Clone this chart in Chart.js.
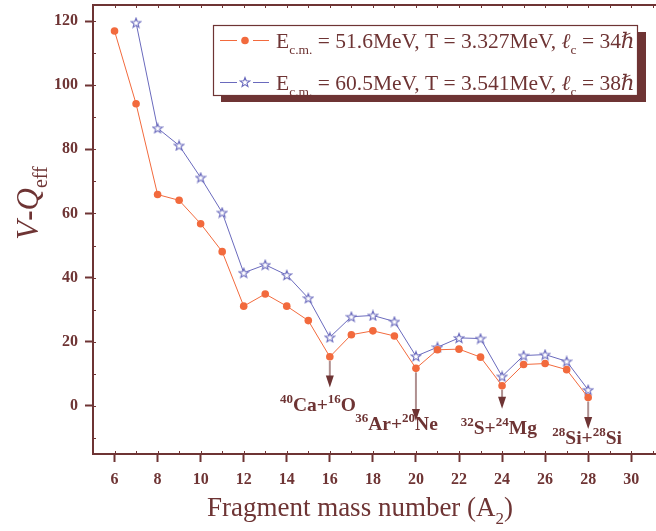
<!DOCTYPE html>
<html>
<head>
<meta charset="utf-8">
<script src="https://cdn.jsdelivr.net/npm/chart.js@4.4.1/dist/chart.umd.min.js"></script>
<style>
  html, body { margin: 0; padding: 0; background: #fff; }
  #wrap { width: 656px; height: 531px; position: relative; }
</style>
</head>
<body>
<div id="wrap"><canvas id="vqChart" width="656" height="531"></canvas></div>
<script>
// fragment mass numbers A2
var massLow = [6, 7, 8, 9, 10, 11, 12, 13, 14, 15, 16, 17, 18, 19, 20, 21, 22, 23, 24, 25, 26, 27, 28];
var vqLow = [116.9, 94.2, 65.9, 64.1, 56.8, 48.1, 31.1, 34.9, 31.1, 26.6, 15.3, 22.2, 23.4, 21.8, 11.7, 17.5, 17.7, 15.2, 6.3, 12.9, 13.2, 11.3, 2.6];
var massHigh = [7, 8, 9, 10, 11, 12, 13, 14, 15, 16, 17, 18, 19, 20, 21, 22, 23, 24, 25, 26, 27, 28];
var vqHigh = [119.5, 86.6, 81.2, 71.2, 60.3, 41.5, 44.0, 40.8, 33.6, 21.4, 27.8, 28.2, 26.3, 15.5, 18.3, 21.2, 21.0, 9.2, 15.7, 16.0, 13.9, 5.0];

var xTicks = [6, 8, 10, 12, 14, 16, 18, 20, 22, 24, 26, 28, 30];
var yTicks = [0, 20, 40, 60, 80, 100, 120];

// decay channels marked with arrows
var channelMass = [16, 20, 24, 28];
var channelTip = [5.7, -4.7, -0.9, -7.2];
var channelLabelX = [15.45, 19.1, 23.85, 27.95];
var channelLabelY = [-1.6, -7.5, -8.7, -11.9];
var channelLabels = [
  [['sup', '40'], ['b', 'Ca+'], ['sup', '16'], ['b', 'O']],
  [['sup', '36'], ['b', 'Ar+'], ['sup', '20'], ['b', 'Ne']],
  [['sup', '32'], ['b', 'S+'], ['sup', '24'], ['b', 'Mg']],
  [['sup', '28'], ['b', 'Si+'], ['sup', '28'], ['b', 'Si']]
];

var maroon = '#6e3434';
var orange = '#f26a3d';
var blue = '#6a6abd';
var serif = "'Liberation Serif', 'DejaVu Serif', serif";

function toPoints(xs, ys) {
  return xs.map(function (x, i) { return { x: x, y: ys[i] }; });
}

// five-point hollow star marker
function makeStar(size) {
  var c = document.createElement('canvas');
  c.width = size; c.height = size;
  var g = c.getContext('2d');
  var cx = size / 2, cy = size / 2 + 0.5, ro = size / 2 - 1, ri = ro * 0.42;
  g.beginPath();
  for (var i = 0; i < 10; i++) {
    var r = i % 2 === 0 ? ro : ri;
    var a = -Math.PI / 2 + i * Math.PI / 5;
    g.lineTo(cx + r * Math.cos(a), cy + r * Math.sin(a));
  }
  g.closePath();
  g.fillStyle = '#fff';
  g.fill();
  g.strokeStyle = blue;
  g.lineWidth = 1.1;
  g.stroke();
  return c;
}
var starImg = makeStar(12);

// draws a run of text pieces: [style, text]
function drawRich(ctx, x, y, parts, base, small, measureOnly) {
  var w = 0;
  parts.forEach(function (p) {
    var kind = p[0], txt = p[1], font, dy = 0;
    if (kind === 'n') font = base + 'px ' + serif;
    else if (kind === 'i') font = 'italic ' + base + 'px ' + serif;
    else if (kind === 'b') font = 'bold ' + base + 'px ' + serif;
    else if (kind === 'sub') { font = small + 'px ' + serif; dy = base * 0.3; }
    else if (kind === 'sup') { font = 'bold ' + small + 'px ' + serif; dy = -base * 0.4; }
    ctx.font = font;
    if (!measureOnly) ctx.fillText(txt, x + w, y + dy);
    w += ctx.measureText(txt).width;
  });
  return w;
}

function noPad(s) {
  s.paddingTop = 0; s.paddingBottom = 0; s.paddingLeft = 0; s.paddingRight = 0;
}

var extras = {
  id: 'extras',
  afterDatasetsDraw: function (chart) {
    var ctx = chart.ctx, xs = chart.scales.x, ys = chart.scales.y, area = chart.chartArea;
    ctx.save();

    // top frame line
    ctx.strokeStyle = maroon;
    ctx.lineWidth = 2;
    ctx.beginPath();
    ctx.moveTo(area.left - 1, area.top);
    ctx.lineTo(area.right, area.top);
    ctx.stroke();

    // minor ticks
    ctx.lineWidth = 1;
    for (var v = 5; v <= 31; v += 1) {
      var px = Math.round(xs.getPixelForValue(v)) + 0.5;
      ctx.beginPath();
      ctx.moveTo(px, area.bottom); ctx.lineTo(px, area.bottom - 3);
      ctx.moveTo(px, area.top); ctx.lineTo(px, area.top + 3);
      ctx.stroke();
    }
    for (var w = -10; w <= 120; w += 10) {
      var py = Math.round(ys.getPixelForValue(w)) + 0.5;
      ctx.beginPath();
      ctx.moveTo(area.left, py); ctx.lineTo(area.left + 3, py);
      ctx.stroke();
    }

    // arrows to decay channels
    channelMass.forEach(function (m, i) {
      var idx = massLow.indexOf(m);
      var x = xs.getPixelForValue(m);
      var y0 = ys.getPixelForValue(vqLow[idx]) + 4;
      var y1 = ys.getPixelForValue(channelTip[i]);
      ctx.strokeStyle = 'rgba(110,52,52,0.55)';
      ctx.lineWidth = 2;
      ctx.beginPath();
      ctx.moveTo(x, y0); ctx.lineTo(x, y1 - 8);
      ctx.stroke();
      ctx.fillStyle = maroon;
      ctx.beginPath();
      ctx.moveTo(x - 4, y1 - 12); ctx.lineTo(x + 4, y1 - 12); ctx.lineTo(x, y1);
      ctx.closePath();
      ctx.fill();

      ctx.fillStyle = maroon;
      ctx.textBaseline = 'alphabetic';
      ctx.textAlign = 'left';
      var lw = drawRich(ctx, 0, 0, channelLabels[i], 19.5, 13, true);
      var lx = xs.getPixelForValue(channelLabelX[i]) - lw / 2;
      var ly = ys.getPixelForValue(channelLabelY[i]);
      drawRich(ctx, lx, ly, channelLabels[i], 19.5, 13, false);
    });

    // legend box with drop shadow
    var bx = 213, by = 25, bw = 424, bh = 70;
    ctx.fillStyle = maroon;
    ctx.fillRect(bx + 8, by + 7, bw + 1, bh);
    ctx.fillStyle = '#fff';
    ctx.fillRect(bx, by, bw, bh);
    ctx.strokeStyle = maroon;
    ctx.lineWidth = 1.2;
    ctx.strokeRect(bx + 0.5, by + 0.5, bw, bh);

    var rows = [
      { color: orange, star: false, parts: [['n', 'E'], ['sub', 'c.m.'], ['n', ' = 51.6MeV, T = 3.327MeV, '], ['i', '\u2113'], ['sub', 'c'], ['n', ' = 34'], ['i', '\u210F']] },
      { color: blue, star: true, parts: [['n', 'E'], ['sub', 'c.m.'], ['n', ' = 60.5MeV, T = 3.541MeV, '], ['i', '\u2113'], ['sub', 'c'], ['n', ' = 38'], ['i', '\u210F']] }
    ];
    rows.forEach(function (r, i) {
      var cy = 40.5 + i * 42;
      ctx.strokeStyle = r.color;
      ctx.lineWidth = 1;
      ctx.beginPath();
      ctx.moveTo(220, cy); ctx.lineTo(237, cy);
      ctx.moveTo(253, cy); ctx.lineTo(269, cy);
      ctx.stroke();
      if (r.star) {
        ctx.drawImage(starImg, 245 - 6, cy - 6.5);
      } else {
        ctx.fillStyle = r.color;
        ctx.beginPath();
        ctx.arc(245, cy, 3.8, 0, Math.PI * 2);
        ctx.fill();
      }
      ctx.fillStyle = maroon;
      drawRich(ctx, 276, cy + 7.5, r.parts, 21.5, 13.5, false);
    });

    // axis titles
    ctx.fillStyle = maroon;
    var xt = [['n', 'Fragment mass number (A'], ['sub', '2'], ['n', ')']];
    var xtw = drawRich(ctx, 0, 0, xt, 27, 17, true);
    drawRich(ctx, 360 - xtw / 2, 516, xt, 27, 17, false);

    var yt = [['i', 'V'], ['b', '-'], ['i', 'Q'], ['sub', 'eff']];
    var ytw = drawRich(ctx, 0, 0, yt, 31, 20, true);
    ctx.translate(38, 203);
    ctx.rotate(-Math.PI / 2);
    drawRich(ctx, -ytw / 2, 0, yt, 31, 20, false);

    ctx.restore();
  }
};

var ctx = document.getElementById('vqChart').getContext('2d');
var chart = new Chart(ctx, {
  type: 'line',
  data: {
    datasets: [{
      label: 'Ecm = 51.6MeV',
      data: toPoints(massLow, vqLow),
      borderColor: orange,
      backgroundColor: orange,
      borderWidth: 1,
      pointRadius: 3.8,
      pointBorderWidth: 0,
      pointStyle: 'circle',
      tension: 0
    }, {
      label: 'Ecm = 60.5MeV',
      data: toPoints(massHigh, vqHigh),
      borderColor: blue,
      backgroundColor: blue,
      borderWidth: 1,
      pointStyle: starImg,
      tension: 0
    }]
  },
  options: {
    responsive: false,
    animation: false,
    layout: { autoPadding: false, padding: { top: 5, right: 0, left: 0, bottom: 0 } },
    plugins: { legend: { display: false }, tooltip: { enabled: false }, title: { display: false } },
    scales: {
      x: {
        type: 'linear',
        min: 5,
        max: 31.15,
        afterBuildTicks: function (s) { s.ticks = xTicks.map(function (v) { return { value: v }; }); },
        afterFit: function (s) { s.height = 77; noPad(s); },
        grid: { drawOnChartArea: false, tickLength: 8, tickColor: maroon, tickWidth: 2 },
        border: { color: maroon, width: 2 },
        ticks: { color: maroon, padding: 8, maxRotation: 0, font: { family: serif, size: 16, weight: 'bold' } }
      },
      y: {
        min: -15,
        max: 125,
        afterBuildTicks: function (s) { s.ticks = yTicks.map(function (v) { return { value: v }; }); },
        afterFit: function (s) { s.width = 93; noPad(s); },
        grid: { drawOnChartArea: false, tickLength: 8, tickColor: maroon, tickWidth: 2 },
        border: { color: maroon, width: 2 },
        ticks: { color: maroon, padding: 7, font: { family: serif, size: 16, weight: 'bold' } }
      }
    }
  },
  plugins: [extras]
});
</script>
</body>
</html>
